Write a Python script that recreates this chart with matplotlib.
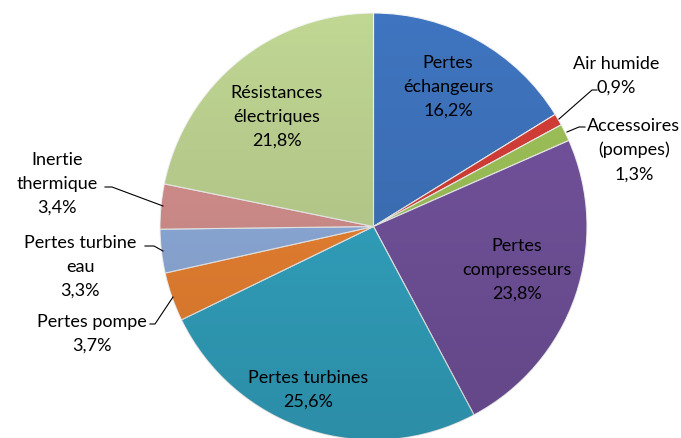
import numpy as np
import matplotlib.pyplot as plt
from matplotlib.patches import Circle

labels = ["Pertes\néchangeurs", "Air humide", "Accessoires\n(pompes)",
          "Pertes\ncompresseurs", "Pertes turbines", "Pertes pompe",
          "Pertes turbine\neau", "Inertie\nthermique", "Résistances\nélectriques"]
values = [16.2, 0.9, 1.3, 23.8, 25.6, 3.7, 3.3, 3.4, 21.8]
colors = ["#3f75c0", "#d83f38", "#a0c55a", "#7554a0", "#34a8c6",
          "#f08633", "#92b0e0", "#d99390", "#c0d693"]

W, H = 681, 439
plt.rcParams["font.family"] = ["Lato", "DejaVu Sans"]

fig = plt.figure(figsize=(W / 100, H / 100), dpi=100)
ax = fig.add_axes([0, 0, 1, 1])


def py(y):
    # screen y (from top) -> axes y
    return H - y


cx, cy, r = 373.5, py(227.5), 213.5
ax.pie(values, colors=colors, startangle=90, counterclock=False,
       center=(cx, cy), radius=r,
       wedgeprops=dict(edgecolor="#f4f4f4", linewidth=0.8))

# soft top-to-bottom shading over the disc
shade = np.zeros((200, 1, 4))
t = np.linspace(0, 1, 200)
shade[:, 0, 3] = 0.16 * t
im = ax.imshow(shade, extent=(cx - r, cx + r, cy - r, cy + r),
               origin="upper", aspect="auto", zorder=3, interpolation="bilinear")
im.set_clip_path(Circle((cx, cy), r, transform=ax.transData))

# pie() resets the view, so fix pixel-sized limits afterwards
ax.set_xlim(0, W)
ax.set_ylim(0, H)
ax.set_aspect("equal")
ax.axis("off")


def pct(v):
    return f"{v:.1f}%".replace(".", ",")


# label positions (x, y from top), leader line points
label_pos = [
    (448, 87, None),
    (616, 76, [(559, 120), (592, 91), (597, 91)]),
    (634, 150, [(567, 133), (579, 128), (585, 128)]),
    (517, 270, None),
    (308, 390, None),
    (92, 334, [(150, 325), (155, 325), (173, 298)]),
    (80, 267, [(145, 247), (154, 247), (163, 252)]),
    (57, 184, [(105, 188), (112, 188), (163, 207)]),
    (277, 117, None),
]

for lab, v, (x, y, line) in zip(labels, values, label_pos):
    ax.text(x, py(y), f"{lab}\n{pct(v)}", ha="center", va="center",
            fontsize=13, linespacing=1.6, color="black", zorder=5)
    if line:
        ax.plot([p[0] for p in line], [py(p[1]) for p in line],
                color="black", lw=0.8, zorder=5)

fig.savefig("out.png", dpi=100)
plt.close(fig)
